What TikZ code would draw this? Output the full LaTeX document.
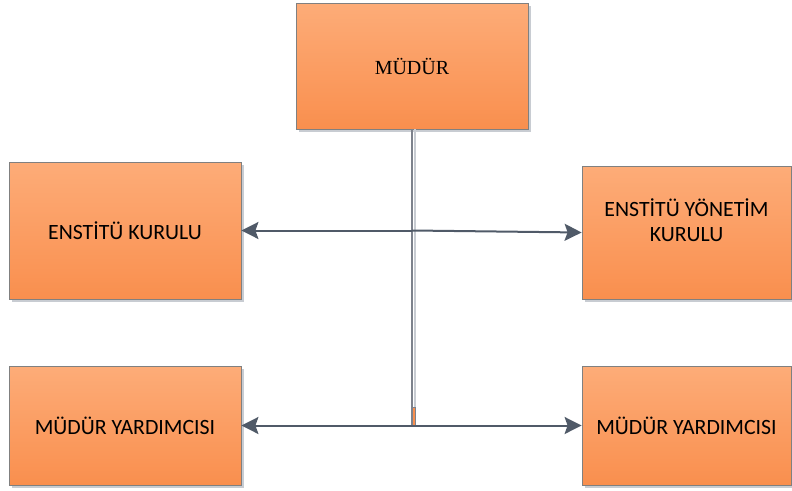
\documentclass[tikz,border=0pt]{standalone}
\usepackage{fontspec}
\setmainfont{Carlito}
\newfontfamily\titlefont{Liberation Serif}
\usetikzlibrary{arrows.meta,shadows}
\definecolor{boxtop}{RGB}{253,172,120}
\definecolor{boxbottom}{RGB}{249,143,78}
\definecolor{boxline}{RGB}{128,128,128}
\definecolor{arrowgray}{RGB}{80,90,104}
\definecolor{stemdark}{RGB}{125,130,140}
\definecolor{stemlight}{RGB}{200,204,210}
\tikzset{
  unitbox/.style={draw=boxline, line width=0.8pt, top color=boxtop, bottom color=boxbottom,
    drop shadow={shadow xshift=3pt, shadow yshift=-3pt, fill=stemlight, opacity=1},
    inner sep=0pt, align=center, font=\fontsize{21.8}{25}\selectfont},
  link/.style={arrowgray, line width=2pt, -{Stealth[length=17pt,width=17pt,inset=3pt]}}
}

\begin{document}
\begin{tikzpicture}[x=1pt,y=-1pt]
		\useasboundingbox (0,0) rectangle (792,490);
		%%  boxes  %%%%%%%%
		\node[unitbox, minimum width=232pt, minimum height=126pt, font=\titlefont\fontsize{20}{24}\selectfont] (mudur) at (412,66) {MÜDÜR};
		\node[unitbox, minimum width=232pt, minimum height=137pt] (kurul) at (125,230.5) {ENSTİTÜ KURULU};
		\node[unitbox, minimum width=209pt, minimum height=133pt] (yonetim) at (686.5,232.5) {ENSTİTÜ YÖNETİM\\KURULU\\\mbox{}};
		\node[unitbox, minimum width=232pt, minimum height=119pt] (yard1) at (125,425.5) {MÜDÜR YARDIMCISI};
		\node[unitbox, minimum width=209pt, minimum height=119pt] (yard2) at (686.5,425.5) {MÜDÜR YARDIMCISI};
		%%  stem  %%%%%%%%
		\coordinate (stemend) at (412,425);
		\draw[stemlight, line width=1.5pt] ([xshift=3pt]mudur.south) -- ([xshift=3pt]stemend);
		\draw[stemdark, line width=1.5pt] (mudur.south) -- (stemend);
		\fill[boxbottom, draw=stemdark, line width=0.4pt] (412.5,407) rectangle (415,425);
		%%  arrows  %%%%%%%%
		\draw[link] (kurul.east -| mudur.south) -- (kurul.east);
		\draw[link] (kurul.east -| mudur.south) -- (yonetim.west);
		\draw[link] (yard1.east -| mudur.south) -- (yard1.east);
		\draw[link] (yard1.east -| mudur.south) -- (yard2.west);
		%%%%%%%%%%%%%%%
\end{tikzpicture}
\end{document}
